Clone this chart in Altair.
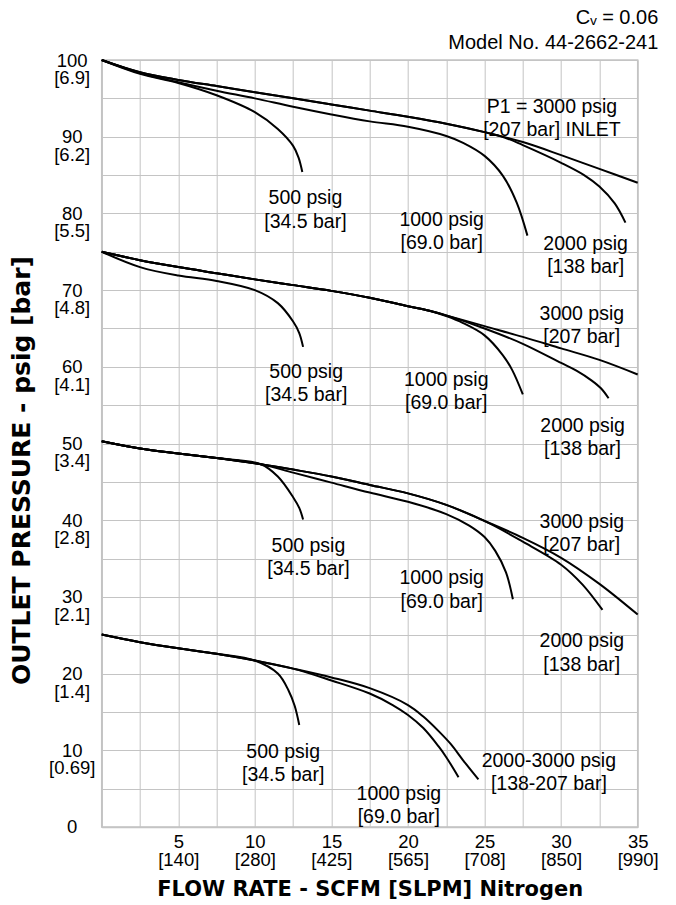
import altair as alt
import pandas as pd

# ---------------- data ----------------
# top family (outlet set at 100 psig)
t3000_x = [0, 2.5, 5, 7.5, 10, 12.5, 15, 17.5, 20, 22.5, 25, 27.5, 30, 32.5, 35]
t3000_y = [100, 98.4, 97.4, 96.6, 95.8, 95.0, 94.2, 93.4, 92.6, 91.7, 90.6, 89.3, 87.6, 85.8, 84.0]
t2000_x = [0, 2.5, 5, 7.5, 10, 12.5, 15, 17.5, 20, 22.5, 25, 26.3, 27.5, 30, 31.5, 32.5, 33.5, 34.2]
t2000_y = [100, 98.4, 97.4, 96.6, 95.8, 95.0, 94.2, 93.4, 92.6, 91.7, 90.6, 89.9, 88.9, 86.6, 85.0, 83.5, 81.3, 78.8]
t1000_x = [0, 2.5, 5, 7.5, 10, 12.5, 15, 17.5, 20, 22.5, 23.6, 25, 26.2, 27.1, 27.8]
t1000_y = [100, 98.3, 97.1, 96.0, 95.0, 93.9, 92.9, 92.0, 91.3, 90.1, 89.2, 87.5, 84.9, 81.4, 77.1]
t500_x = [0, 2.5, 5, 7.5, 10, 11.5, 12.5, 12.85, 13.1]
t500_y = [100, 98.2, 97.0, 95.4, 93.2, 91.0, 88.8, 87.3, 85.4]

# second family (75 psig)
s3000_x = [0, 2.5, 5, 7.5, 10, 12.5, 15, 17.5, 20, 21.4, 22.5, 25, 27.5, 30, 32.5, 35]
s3000_y = [75, 73.9, 73.0, 72.2, 71.4, 70.65, 69.9, 69.0, 67.9, 67.3, 66.7, 65.3, 63.9, 62.4, 60.9, 59.0]
s2000_x = [0, 2.5, 5, 7.5, 10, 12.5, 15, 17.5, 20, 21.4, 22.5, 25, 27.5, 30, 31, 32, 32.6, 33.1]
s2000_y = [75, 73.9, 73.0, 72.2, 71.4, 70.65, 69.9, 69.0, 67.9, 67.3, 66.7, 65.0, 63.0, 60.5, 59.5, 58.2, 57.2, 55.9]
s1000_x = [0, 2.5, 5, 7.5, 10, 12.5, 15, 17.5, 20, 21.4, 22.5, 23.6, 25, 26.2, 26.8, 27.5]
s1000_y = [75, 73.9, 73.0, 72.2, 71.4, 70.65, 69.9, 69.0, 67.9, 67.3, 66.6, 65.7, 64.1, 61.5, 59.6, 56.4]
s500_x = [0, 2.5, 5, 7.5, 10, 11.5, 12.5, 12.9, 13.15]
s500_y = [75, 73.0, 71.9, 71.2, 70.0, 68.3, 65.9, 64.4, 62.6]

# third family (50 psig)
r3000_x = [0, 2.5, 5, 7.5, 10.4, 12.5, 15, 17.5, 20, 22.5, 25, 27.5, 30, 32.5, 35]
r3000_y = [50.3, 49.35, 48.7, 48.1, 47.3, 46.6, 45.7, 44.6, 43.5, 42.0, 39.9, 37.7, 35.1, 31.7, 27.7]
r2000_x = [0, 2.5, 5, 7.5, 10.4, 12.5, 15, 17.5, 20, 22.5, 25, 27.5, 30, 31.4, 32.7]
r2000_y = [50.3, 49.35, 48.7, 48.1, 47.3, 46.6, 45.7, 44.6, 43.5, 42.0, 39.9, 37.2, 34.2, 31.6, 28.3]
r1000_x = [0, 2.5, 5, 7.5, 10.4, 12.5, 15, 17.5, 20, 22.5, 24, 25, 25.7, 26.4, 26.85]
r1000_y = [50.3, 49.35, 48.7, 48.1, 47.3, 46.2, 44.9, 43.6, 42.4, 40.8, 39.3, 37.8, 36.0, 33.2, 29.7]
r500_x = [0, 2.5, 5, 7.5, 10.4, 11.5, 12.5, 12.9, 13.15]
r500_y = [50.3, 49.35, 48.7, 48.1, 47.3, 45.7, 43.0, 41.6, 40.1]

# bottom family (25 psig)
q2000_x = [0, 2.5, 5, 7.5, 10, 12.5, 15, 17.5, 20, 21, 22, 22.8, 23.6, 24.6]
q2000_y = [25.1, 24.1, 23.3, 22.6, 21.7, 20.65, 19.5, 18.1, 15.9, 14.4, 12.5, 10.8, 8.7, 6.2]
q1000_x = [0, 2.5, 5, 7.5, 10, 12.5, 15, 17.5, 19, 20, 21, 22, 22.5, 23.3]
q1000_y = [25.1, 24.1, 23.3, 22.6, 21.7, 20.65, 19.1, 17.4, 15.9, 14.6, 12.9, 10.5, 9.1, 6.5]
q500_x = [0, 2.5, 5, 7.5, 10, 11.5, 12.2, 12.6, 12.9]
q500_y = [25.1, 24.1, 23.3, 22.6, 21.7, 20.0, 17.8, 15.8, 13.3]

curves = {
    "t3000": (t3000_x, t3000_y), "t2000": (t2000_x, t2000_y),
    "t1000": (t1000_x, t1000_y), "t500": (t500_x, t500_y),
    "s3000": (s3000_x, s3000_y), "s2000": (s2000_x, s2000_y),
    "s1000": (s1000_x, s1000_y), "s500": (s500_x, s500_y),
    "r3000": (r3000_x, r3000_y), "r2000": (r2000_x, r2000_y),
    "r1000": (r1000_x, r1000_y), "r500": (r500_x, r500_y),
    "q2000": (q2000_x, q2000_y), "q1000": (q1000_x, q1000_y),
    "q500": (q500_x, q500_y),
}

# curve annotations
label_text = [
    "500 psig\n[34.5 bar]", "1000 psig\n[69.0 bar]", "2000 psig\n[138 bar]",
    "P1 = 3000 psig\n[207 bar] INLET",
    "500 psig\n[34.5 bar]", "1000 psig\n[69.0 bar]", "3000 psig\n[207 bar]",
    "2000 psig\n[138 bar]",
    "500 psig\n[34.5 bar]", "1000 psig\n[69.0 bar]", "3000 psig\n[207 bar]",
    "2000 psig\n[138 bar]",
    "500 psig\n[34.5 bar]", "1000 psig\n[69.0 bar]", "2000-3000 psig\n[138-207 bar]",
]
label_x = [13.3, 22.2, 31.6, 29.4, 13.35, 22.5, 31.35, 31.4,
           13.5, 22.2, 31.35, 31.35, 11.85, 19.4, 29.2]
label_y = [81.95, 79.2, 76.05, 93.9, 59.35, 58.3, 66.9, 52.3,
           36.7, 32.45, 39.8, 24.2, 9.8, 4.3, 8.65]

# axis tick labels
x_grid = [i * 2.5 for i in range(15)]
x_tick_vals = [5, 10, 15, 20, 25, 30, 35]
x_tick_slpm = ["[140]", "[280]", "[425]", "[565]", "[708]", "[850]", "[990]"]
y_grid = [i * 5 for i in range(21)]
y_tick_vals = [10, 20, 30, 40, 50, 60, 70, 80, 90, 100]
y_tick_bar = ["[0.69]", "[1.4]", "[2.1]", "[2.8]", "[3.4]", "[4.1]", "[4.8]",
              "[5.5]", "[6.2]", "[6.9]"]

# ---------------- build ----------------
rows = []
for name, (xs, ys) in curves.items():
    for i, (xv, yv) in enumerate(zip(xs, ys)):
        rows.append({"curve": name, "i": i, "x": xv, "y": yv})
line_df = pd.DataFrame(rows)
lab_df = pd.DataFrame({"t": label_text, "x": label_x, "y": label_y})


def ternary(vals, labs, default):
    expr = default
    for v, l in zip(vals, labs):
        expr = f"datum.value == {v} ? {l} : ({expr})"
    return expr


x_expr = ternary(x_tick_vals,
                 [f"['{v}', '{s}']" for v, s in zip(x_tick_vals, x_tick_slpm)], "''")
y_expr = ternary([0] + y_tick_vals,
                 ["'0'"] + [f"['{v}', '{s}']" for v, s in zip(y_tick_vals, y_tick_bar)], "''")

FONT = "Liberation Sans"
GRID = "#c4c4c4"

x_enc = alt.X(
    "x:Q",
    scale=alt.Scale(domain=[0, 35], nice=False, zero=False),
    axis=alt.Axis(
        values=x_grid, grid=True, gridColor=GRID, gridWidth=1,
        domainColor=GRID, domainWidth=1.5, ticks=False, tickSize=0,
        labelExpr=x_expr, labelFont=FONT, labelFontSize=18.5, labelColor="black",
        labelLineHeight=17.5, labelBaseline="top", labelPadding=6,
        labelOverlap=False, labelFlush=False, labelBound=False,
        title="FLOW RATE - SCFM [SLPM] Nitrogen", titleFont="DejaVu Sans",
        titleFontWeight="bold", titleFontSize=21, titleColor="black", titlePadding=10,
    ),
)
y_enc = alt.Y(
    "y:Q",
    scale=alt.Scale(domain=[0, 100], nice=False),
    axis=alt.Axis(
        values=y_grid, grid=True, gridColor=GRID, gridWidth=1,
        domainColor=GRID, domainWidth=1.5, ticks=False, tickSize=0,
        labelExpr=y_expr, labelFont=FONT, labelFontSize=18.5, labelColor="black",
        labelLineHeight=17.5, labelAlign="center", labelBaseline="middle", labelPadding=30,
        labelOverlap=False, labelFlush=False, labelBound=False,
        title="OUTLET PRESSURE - psig [bar]", titleFont="DejaVu Sans",
        titleFontWeight="bold", titleFontSize=25, titleColor="black",
        titleAngle=270, titleAlign="center", titleBaseline="middle",
        titleX=-80, titleY=410,
    ),
)

lines = alt.Chart(line_df).mark_line(
    color="black", strokeWidth=2, interpolate="catmull-rom"
).encode(x=x_enc, y=y_enc, detail="curve:N", order="i:Q")

labels = alt.Chart(lab_df).mark_text(
    font=FONT, fontSize=19.5, lineBreak="\n", lineHeight=23.5,
    align="center", baseline="middle", color="black",
).encode(x=x_enc, y=y_enc, text="t:N")

chart = alt.layer(lines, labels).properties(
    width=536, height=767,
    title=alt.TitleParams(
        text=["C\u1d65 = 0.06", "Model No. 44-2662-241"],
        anchor="end", font=FONT, fontSize=20, fontWeight="normal",
        color="black", lineHeight=25, offset=-2,
    ),
    autosize=alt.AutoSizeParams(type="none"),
    padding={"left": 93.7, "top": 52, "right": 30, "bottom": 78},
).configure_view(stroke=GRID, strokeWidth=1.5)

chart.save("out.html", embed_options={"renderer": "svg", "actions": False})
